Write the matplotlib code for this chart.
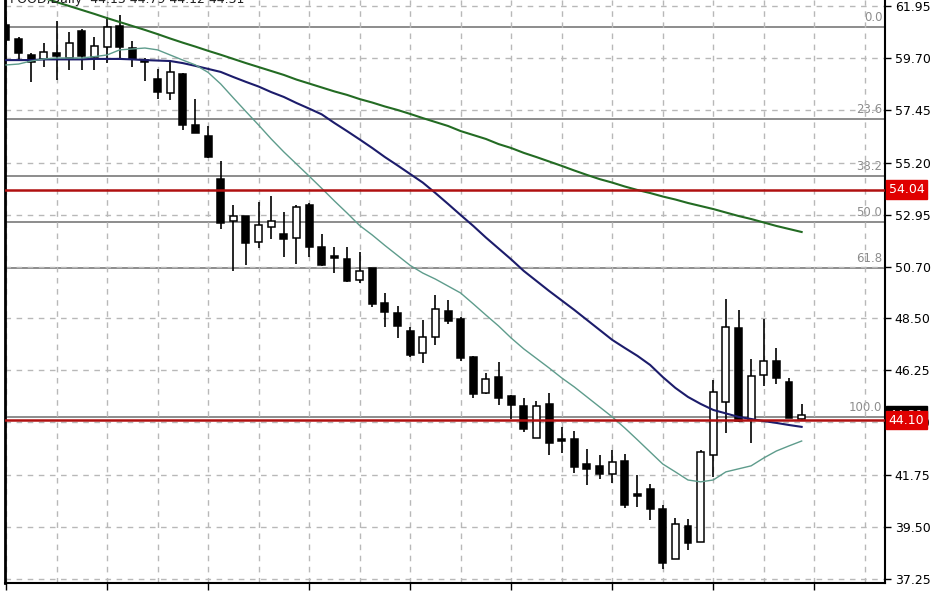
import matplotlib
matplotlib.use('Agg')
import matplotlib.pyplot as plt
import matplotlib.transforms as mtransforms
import numpy as np

# daily candles
opens = [61.13, 60.53, 59.84, 59.67, 59.93, 59.71, 60.87, 59.75, 60.18, 61.09,
         60.14, 59.62, 58.81, 58.20, 59.02, 56.82, 56.35, 54.50, 52.68, 52.90,
         51.78, 52.43, 52.12, 51.95, 53.37, 51.56, 51.18, 51.05, 50.14, 50.66,
         49.15, 48.72, 47.94, 46.99, 47.68, 48.81, 48.46, 46.82, 45.27, 45.96,
         45.14, 44.71, 43.33, 44.80, 43.29, 43.29, 42.21, 42.13, 41.78, 42.34,
         40.92, 41.13, 40.27, 38.12, 39.54, 38.85, 42.60, 44.88, 48.07, 44.11,
         46.05, 46.65, 45.75, 44.13]
highs = [61.48, 60.62, 59.93, 60.36, 61.30, 60.83, 60.96, 60.62, 61.48, 61.56,
         60.44, 59.71, 59.24, 59.54, 59.06, 57.94, 56.78, 55.27, 53.37, 52.90,
         53.50, 53.76, 53.07, 53.37, 53.46, 52.12, 51.56, 51.56, 51.35, 50.66,
         49.58, 49.02, 48.12, 48.42, 49.50, 49.28, 48.55, 46.87, 46.13, 46.61,
         45.18, 45.06, 44.93, 45.27, 43.81, 43.63, 42.86, 42.60, 42.81, 42.64,
         41.74, 41.35, 40.44, 39.88, 39.84, 42.81, 45.83, 49.32, 48.85, 46.74,
         48.46, 47.21, 45.92, 44.79]
lows = [60.27, 59.62, 58.68, 59.32, 58.76, 59.19, 59.19, 59.19, 59.49, 59.71,
        59.32, 58.72, 57.94, 57.90, 56.61, 56.48, 55.40, 52.34, 50.53, 50.79,
        51.52, 51.91, 51.13, 50.83, 51.13, 50.74, 50.44, 50.05, 50.01, 48.98,
        48.12, 47.64, 46.82, 46.56, 47.34, 48.25, 46.65, 45.06, 45.23, 44.75,
        44.15, 43.59, 43.33, 42.60, 42.69, 41.82, 41.31, 41.56, 41.39, 40.32,
        40.36, 39.80, 37.69, 38.12, 38.50, 38.85, 41.65, 43.55, 44.02, 43.12,
        45.57, 45.66, 44.19, 44.12]
closes = [60.49, 59.93, 59.54, 59.97, 59.80, 60.36, 59.80, 60.23, 61.05, 60.18,
          59.67, 59.54, 58.24, 59.11, 56.82, 56.48, 55.44, 52.60, 52.90, 51.74,
          52.51, 52.68, 51.91, 53.29, 51.56, 50.79, 51.09, 50.10, 50.53, 49.11,
          48.76, 48.16, 46.91, 47.68, 48.89, 48.37, 46.78, 45.23, 45.87, 45.06,
          44.75, 43.72, 44.71, 43.12, 43.20, 42.08, 42.00, 41.78, 42.30, 40.44,
          40.83, 40.27, 37.94, 39.63, 38.81, 42.73, 45.31, 48.12, 44.06, 46.00,
          46.65, 45.92, 44.19, 44.31]

# moving averages
ma_green = [62.81, 62.64, 62.47, 62.30, 62.12, 61.95, 61.78, 61.61, 61.43, 61.26,
            61.09, 60.92, 60.74, 60.55, 60.37, 60.20, 60.02, 59.85, 59.67, 59.49,
            59.32, 59.15, 58.98, 58.78, 58.61, 58.44, 58.27, 58.12, 57.94, 57.79,
            57.62, 57.47, 57.30, 57.12, 56.95, 56.78, 56.56, 56.39, 56.22, 56.00,
            55.83, 55.62, 55.44, 55.25, 55.06, 54.86, 54.67, 54.49, 54.34, 54.17,
            54.02, 53.89, 53.74, 53.61, 53.46, 53.33, 53.20, 53.05, 52.90, 52.77,
            52.62, 52.47, 52.34, 52.21]
ma_navy = [59.62, 59.62, 59.62, 59.65, 59.65, 59.65, 59.65, 59.67, 59.67, 59.67,
           59.65, 59.62, 59.60, 59.58, 59.49, 59.37, 59.24, 59.11, 58.89, 58.68,
           58.48, 58.24, 58.03, 57.77, 57.53, 57.28, 56.91, 56.56, 56.20, 55.83,
           55.44, 55.08, 54.71, 54.34, 53.89, 53.42, 52.94, 52.47, 51.97, 51.50,
           51.03, 50.53, 50.10, 49.67, 49.26, 48.85, 48.42, 47.99, 47.56, 47.21,
           46.87, 46.48, 45.96, 45.49, 45.10, 44.80, 44.54, 44.39, 44.24, 44.15,
           44.06, 43.98, 43.89, 43.81]
ma_teal = [59.41, 59.45, 59.58, 59.67, 59.71, 59.71, 59.71, 59.77, 59.84, 60.06,
           60.10, 60.14, 60.06, 59.84, 59.62, 59.41, 59.09, 58.59, 57.99, 57.40,
           56.82, 56.22, 55.66, 55.14, 54.62, 54.09, 53.55, 53.03, 52.49, 52.08,
           51.63, 51.20, 50.77, 50.44, 50.18, 49.88, 49.58, 49.11, 48.63, 48.16,
           47.64, 47.17, 46.76, 46.35, 45.92, 45.53, 45.10, 44.67, 44.24, 43.76,
           43.25, 42.73, 42.21, 41.87, 41.52, 41.44, 41.52, 41.87, 42.00, 42.13,
           42.47, 42.77, 42.99, 43.20]

y_ticks = [37.25, 39.50, 41.75, 44.00, 46.25, 48.50, 50.70, 52.95, 55.20, 57.45, 59.70, 61.95]
fib_high = 61.05
fib_low = 44.24
fib_levels = [0.0, 23.6, 38.2, 50.0, 61.8, 100.0]
red_levels = [54.04, 44.10]
last_price = 44.31
title_text = 'FOOD,Daily  44.13 44.79 44.12 44.31'

fig = plt.figure(figsize=(9.48, 5.93), dpi=100)
ax = fig.add_axes([5 / 948, 10 / 593, 880 / 948, 583 / 593])

x = np.arange(len(opens))
o = np.array(opens)
c = np.array(closes)
up = c >= o

# grid
ax.set_xticks(np.arange(0, 70, 4), minor=True)
ax.set_xticks(np.arange(0, 70, 8))
ax.grid(True, which='both', axis='x', color='#b8b8b8', linestyle=(0, (4, 4)), linewidth=1, zorder=0)
ax.grid(True, which='major', axis='y', color='#b8b8b8', linestyle=(0, (4, 4)), linewidth=1, zorder=0)

# fibo levels
for lev in fib_levels:
    p = fib_high - (fib_high - fib_low) * lev / 100
    ax.axhline(p, color='#8c8c8c', lw=1.4, zorder=1)
    ax.text(69.4, p + 0.12, '%.1f' % lev, color='#8c8c8c', fontsize=8.5, ha='right', va='bottom', zorder=1)

# candles
ax.vlines(x, lows, highs, color='black', lw=1.2, zorder=3)
body = np.maximum(np.abs(c - o), 0.06)
ax.bar(x, body, bottom=np.minimum(o, c), width=0.55,
       color=np.where(up, 'white', 'black'), edgecolor='black', linewidth=1.1, zorder=4)

# moving averages
ax.plot(x, ma_green, color='#236b23', lw=1.5, zorder=5)
ax.plot(x, ma_navy, color='#1c1c6b', lw=1.5, zorder=5)
ax.plot(x, ma_teal, color='#5e9c8c', lw=1.0, zorder=5)

# horizontal lines
for lev in red_levels:
    ax.axhline(lev, color='#b01010', lw=1.8, zorder=6)

ax.set_xlim(-0.08, 69.6)
ax.set_ylim(37.08, 62.21)

ax.yaxis.tick_right()
ax.set_yticks(y_ticks)
ax.set_yticklabels(['%.2f' % v for v in y_ticks], fontsize=9)
ax.tick_params(axis='y', direction='out', length=4, width=1, pad=3, colors='black')
ax.tick_params(axis='x', which='major', direction='out', length=5, width=1, labelbottom=False)
ax.tick_params(axis='x', which='minor', length=0)

for s in ['top']:
    ax.spines[s].set_visible(False)
ax.spines['left'].set_linewidth(2)
ax.spines['right'].set_linewidth(1.5)
ax.spines['bottom'].set_linewidth(1.5)

# price labels on the axis
tr = mtransforms.blended_transform_factory(ax.transAxes, ax.transData)
ax.text(1.004, last_price, '%.2f' % last_price, transform=tr, color='white', fontsize=9,
        va='center', ha='left', clip_on=False, zorder=20,
        bbox=dict(boxstyle='square,pad=0.22', fc='black', ec='black'))
for lev in red_levels:
    ax.text(1.004, lev, '%.2f' % lev, transform=tr, color='white', fontsize=9,
            va='center', ha='left', clip_on=False, zorder=21,
            bbox=dict(boxstyle='square,pad=0.22', fc='#e00000', ec='#e00000'))

ax.text(0.006, 1.0, title_text, transform=ax.transAxes, fontsize=9, color='#202020',
        va='center', ha='left', clip_on=False, zorder=25)

fig.savefig('out.png', dpi=100)
